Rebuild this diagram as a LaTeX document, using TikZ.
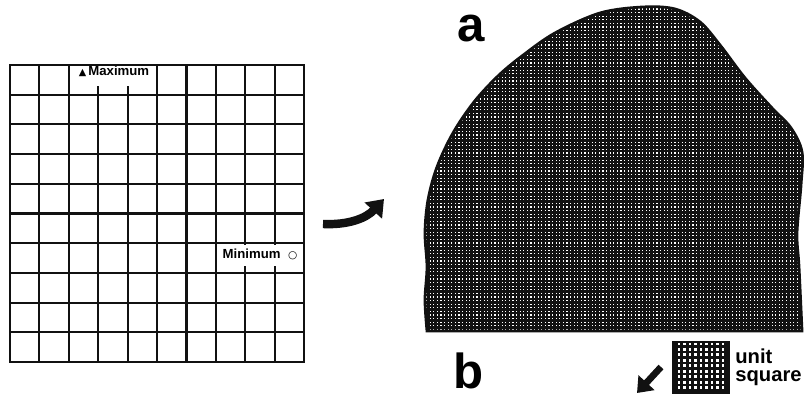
\documentclass[tikz,border=0pt]{standalone}
\usepackage{fontspec}
\setmainfont{Liberation Sans}
\newfontfamily\symfont{DejaVu Sans}
\usetikzlibrary{arrows.meta}
\definecolor{FigInk}{HTML}{111111}
\begin{document}
\begin{tikzpicture}[x=0.02cm,y=-0.02cm,
    every node/.style={inner sep=0pt},
    gridline/.style={draw=FigInk,line width=1.25pt},
    knockout/.style={fill=white,align=center,font=\fontsize{7.5}{8}\selectfont\bfseries},
    panellabel/.style={font=\fontsize{28}{28}\selectfont\bfseries,text depth=0pt},
    fatarrow/.style={draw=FigInk,line width=4.8pt,-{Triangle[length=9pt,width=13pt]}}]
  \useasboundingbox (0,0) rectangle (804,398);

  % regular mesh before the mapping
  \foreach \i in {0,...,10}{
    \draw[gridline] ({10+29.4*\i},65) -- ({10+29.4*\i},362);
    \draw[gridline] (10,{65+29.7*\i}) -- (304,{65+29.7*\i});
  }
  \node[knockout,anchor=north,text width=1.56cm,text height=0.19cm,text depth=0.2cm]
    (maxlbl) at (114,66) {{\symfont\fontsize{5.5}{5.5}\selectfont ▲}\,Maximum};
  \node[knockout,anchor=north,text width=1.7cm,text height=0.26cm,text depth=0.16cm]
    (minlbl) at (260,245) {Minimum\hspace{0.15cm}{\symfont\fontsize{6}{6}\selectfont ○}};
  \draw[FigInk,line width=1.7pt] (10,65) rectangle (304,362);

  % mapping arrow
  \coordinate (warptail) at (323,224);
  \coordinate (warptip) at (384,199);
  \draw[fatarrow] (warptail) to[bend right=25] (warptip);

  % mapped region, filled with unit squares
  \draw[FigInk,line width=1.6pt,fill=white,
        path picture={\draw[FigInk,line width=1.4pt,step=0.072cm]
          (path picture bounding box.south west) grid (path picture bounding box.north east);}]
    plot[smooth,tension=0.55] coordinates {(427,331) (425,300) (427,267) (425,233) (428,200)
      (437,167) (453,133) (474,102) (498,76) (522,56) (555,33) (600,13) (643,7) (675,9)
      (700,22) (720,45) (745,78) (772,108) (791,128) (802,152) (801,185) (797,233)
      (799,267) (802,331)} -- cycle;

  \node[panellabel,anchor=base] (lbla) at (471,42) {a};
  \node[panellabel,anchor=base] (lblb) at (469,388) {b};

  % legend
  \coordinate (smalltail) at (661,367);
  \coordinate (smalltip) at (637,393);
  \draw[fatarrow,line width=3.8pt,-{Triangle[length=8pt,width=12pt]}] (smalltail) -- (smalltip);
  \draw[FigInk,line width=1.7pt,fill=white,
        path picture={\draw[FigInk,line width=1.6pt,step=0.11cm]
          (path picture bounding box.south west) grid (path picture bounding box.north east);}]
    (673,342) rectangle (728,393);
  \node[anchor=base west,align=left,font=\fontsize{11.5}{10.2}\selectfont\bfseries]
    (unitlbl) at (735,381) {unit\\square};
\end{tikzpicture}
\end{document}
